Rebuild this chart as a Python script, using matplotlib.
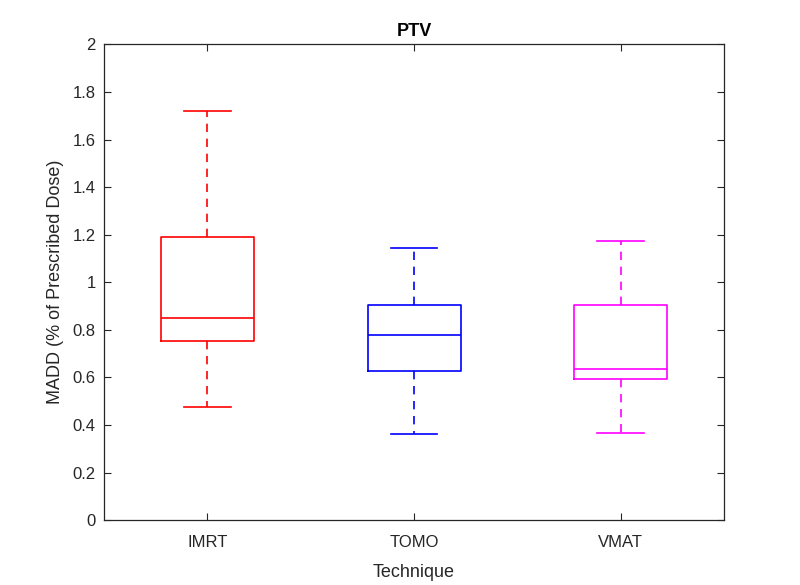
import matplotlib
matplotlib.use("Agg")
import matplotlib.pyplot as plt

# values
techniques = ["IMRT", "TOMO", "VMAT"]
whisker_low = [0.477, 0.364, 0.368]
q1 = [0.751, 0.626, 0.594]
median = [0.849, 0.777, 0.634]
q3 = [1.19, 0.904, 0.904]
whisker_high = [1.719, 1.142, 1.173]
colors = ["#ff0000", "#0000ff", "#ff00ff"]

plt.rcParams["font.family"] = ["Liberation Sans", "DejaVu Sans"]

fig = plt.figure(figsize=(8, 5.85), dpi=100)
ax = fig.add_axes([0.13, 0.111, 0.775, 0.813])

axis_col = "#262626"

for i, name in enumerate(techniques):
    stats = [{
        "label": name,
        "whislo": whisker_low[i],
        "q1": q1[i],
        "med": median[i],
        "q3": q3[i],
        "whishi": whisker_high[i],
        "fliers": [],
    }]
    c = colors[i]
    ax.bxp(stats, positions=[i + 1], widths=0.45, showfliers=False,
           boxprops=dict(color=c, linewidth=1.2),
           medianprops=dict(color=c, linewidth=1.2),
           whiskerprops=dict(color=c, linewidth=1.2, linestyle=(0, (5, 4))),
           capprops=dict(color=c, linewidth=1.2),
           capwidths=0.225)

ax.set_xlim(0.5, 3.5)
ax.set_ylim(0, 2)
ax.set_xticks([1, 2, 3])
ax.set_xticklabels(techniques)
ax.set_yticks([0, 0.2, 0.4, 0.6, 0.8, 1, 1.2, 1.4, 1.6, 1.8, 2])
ax.set_yticklabels(["0", "0.2", "0.4", "0.6", "0.8", "1", "1.2", "1.4", "1.6", "1.8", "2"])

ax.tick_params(direction="in", length=5, width=0.8, colors=axis_col,
               labelsize=12, top=True, right=True, pad=6)
ax.tick_params(axis="x", pad=11)
for s in ax.spines.values():
    s.set_color(axis_col)
    s.set_linewidth(0.9)

ax.set_title("PTV", fontsize=13, fontweight="bold", color="black", pad=6)
ax.set_xlabel("Technique", fontsize=13, color=axis_col, labelpad=10)
ax.set_ylabel("MADD (% of Prescribed Dose)", fontsize=13, color=axis_col, labelpad=6)

fig.savefig("out.png", dpi=100)
